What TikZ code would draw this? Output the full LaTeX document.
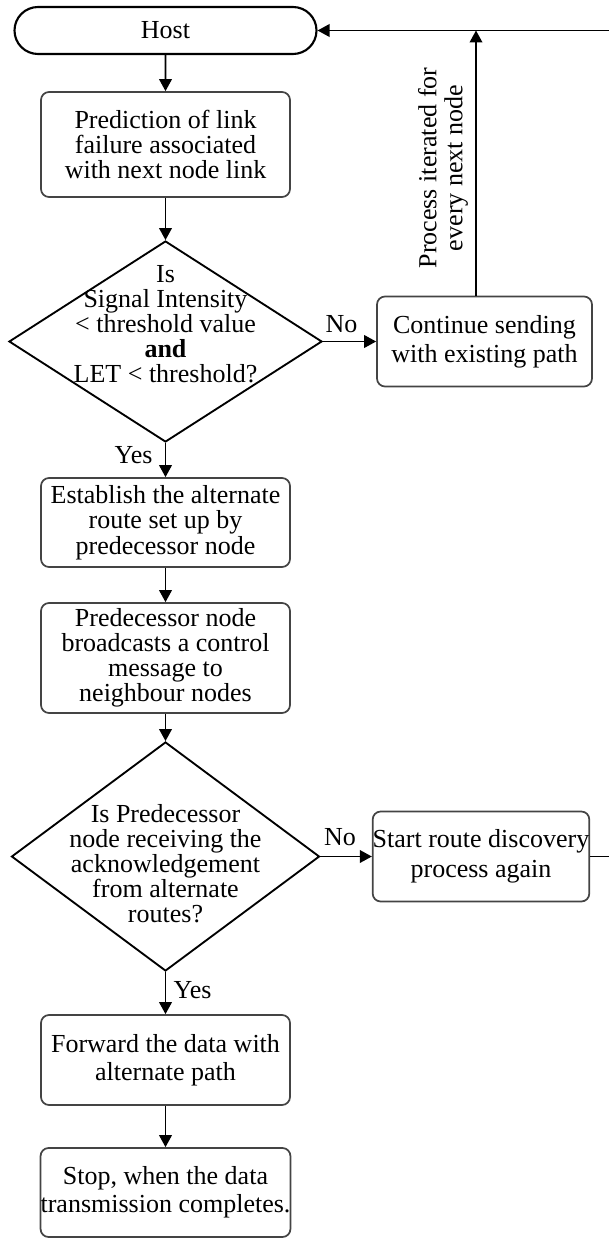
\documentclass[tikz,border=0pt]{standalone}
\usepackage{fontspec}
\setmainfont{Liberation Serif}
\usetikzlibrary{arrows.meta,shapes.geometric,shapes.misc}

\begin{document}
\begin{tikzpicture}[x=0.75pt,y=0.75pt,yscale=-1,xscale=1,
    txt/.style={font=\fontsize{19.5}{18.75}\selectfont, align=center, inner sep=0pt},
    wtxt/.style={txt, font=\fontsize{19.5}{21.75}\selectfont},
    box/.style={draw={rgb, 255:red, 68; green, 68; blue, 68}, line width=1.3pt, rounded corners=6pt, minimum width=186.75pt},
    decision/.style={diamond, draw, line width=1.4pt, inner sep=0pt},
    terminal/.style={rounded rectangle, draw, line width=1.6pt, minimum width=226.5pt, minimum height=35.25pt},
    arrow/.style={line width=1.2pt, -{Triangle[length=9pt,width=9.5pt]}}]
\useasboundingbox (0,0) rectangle (609,1238);

% Host
\node [terminal, txt] (host) at (165.5,30.5) {Host};
% Boxes of the main column
\node [box, txt, minimum height=78.75pt] (pred) at (165.5,144.5) {Prediction of link\\failure associated\\with next node link};
\node [decision, minimum width=234.75pt, minimum height=150.75pt] (dec1) at (165.5,341.5) {};
\node [txt] (dec1txt) at (165.5,324) {Is\\Signal Intensity\\\textless\ threshold value\\\textbf{and}\\LET \textless\ threshold?};
\node [box, wtxt, minimum width=161.25pt, minimum height=67.5pt] (cont) at (484.5,341.5) {Continue sending\\with existing path};
\node [box, txt, font=\fontsize{19.5}{19.1}\selectfont, minimum height=66.75pt] (est) at (165.5,522.5) {Establish the alternate\\route set up by\\predecessor node};
\node [box, txt, minimum height=82.5pt] (predb) at (165.5,658) {Predecessor node\\broadcasts a control\\message to\\neighbour nodes};
\node [decision, minimum width=231pt, minimum height=171.75pt] (dec2) at (165.5,856.5) {};
\node [txt] (dec2txt) at (165.5,864) {Is Predecessor\\node receiving the\\acknowledgement\\from alternate\\routes?};
\node [box, wtxt, font=\fontsize{19.5}{22.5}\selectfont, minimum width=162pt, minimum height=67.5pt] (start) at (481,856.5) {Start route discovery\\process again};
\node [box, wtxt, font=\fontsize{19.5}{21}\selectfont, minimum height=67.5pt] (fwd) at (165.5,1060) {Forward the data with\\alternate path};
\node [box, wtxt, font=\fontsize{19.5}{21}\selectfont, minimum height=66.75pt] (stop) at (165.5,1192.5) {Stop, when the data\\transmission completes.};

% Labels
\node [txt, anchor=base] (no1) at (341.5,332) {No};
\node [txt, anchor=base] (yes1) at (133.5,463) {Yes};
\node [txt, anchor=base] (no2) at (340,845) {No};
\node [txt, anchor=base] (yes2) at (192.5,998) {Yes};
\node [txt, font=\fontsize{19.5}{19.5}\selectfont, rotate=90] (iter) at (443,168) {Process iterated for\\every next node};

% Loop back coordinates
\coordinate (join) at (476,30.5);
\coordinate (tr) at (616,30.5);
\coordinate (br) at (616,856.5);

% Connectors
\draw [arrow] (host) -- (pred);
\draw [arrow] (pred) -- (dec1);
\draw [arrow] (dec1.east) -- (dec1.east -| cont.west);
\draw [arrow] (dec1) -- (est);
\draw [arrow] (est) -- (predb);
\draw [arrow] (predb) -- (dec2);
\draw [arrow] (dec2.east) -- (dec2.east -| start.west);
\draw [arrow] (dec2) -- (fwd);
\draw [arrow] (fwd) -- (stop);
\draw [arrow] (join |- cont.north) -- (join);
\draw [arrow] (start.east) -- (br) -- (tr) -- (host.east);
\end{tikzpicture}
\end{document}
